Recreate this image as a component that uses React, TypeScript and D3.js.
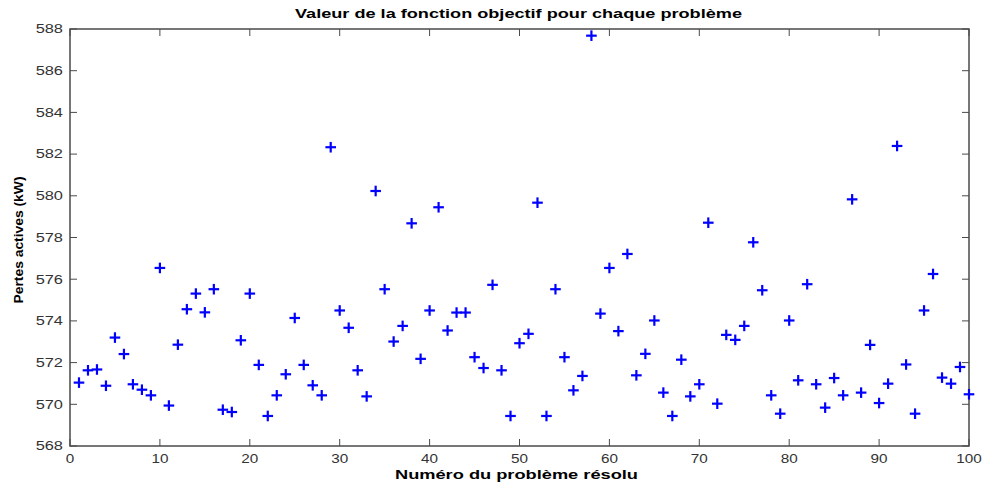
import React from "react";
import * as d3 from "d3";

const problems: number[] = d3.range(1, 101);
const losses: number[] = [
  571.04, 571.63, 571.67, 570.89, 573.2, 572.41, 570.96, 570.7, 570.43, 576.54,
  569.94, 572.86, 574.56, 575.31, 574.41, 575.52, 569.74, 569.63, 573.07, 575.31,
  571.89, 569.44, 570.43, 571.44, 574.14, 571.89, 570.91, 570.43, 582.33, 574.5,
  573.67, 571.63, 570.38, 580.23, 575.52, 573.01, 573.76, 578.68, 572.18, 574.5,
  579.45, 573.54, 574.4, 574.4, 572.26, 571.74, 575.73, 571.63, 569.44, 572.93,
  573.38, 579.67, 569.44, 575.52, 572.26, 570.67, 571.36, 587.68, 574.35, 576.54,
  573.51, 577.21, 571.39, 572.42, 574.02, 570.56, 569.44, 572.14, 570.38, 570.96,
  578.71, 570.03, 573.33, 573.09, 573.76, 577.77, 575.47, 570.43, 569.55, 574.02,
  571.15, 575.76, 570.96, 569.84, 571.26, 570.43, 579.83, 570.56, 572.85, 570.06,
  570.99, 582.39, 571.91, 569.55, 574.5, 576.25, 571.28, 570.99, 571.79, 570.48,
];
const xTicks: number[] = [0, 10, 20, 30, 40, 50, 60, 70, 80, 90, 100];
const yTicks: number[] = [568, 570, 572, 574, 576, 578, 580, 582, 584, 586, 588];
const title = "Valeur de la fonction objectif pour chaque problème";
const xLabel = "Numéro du problème résolu";
const yLabel = "Pertes actives (kW)";

export default function App() {
  const W = 985;
  const H = 483;
  const left = 70, right = 969, top = 29, bottom = 446;
  const x = d3.scaleLinear().domain([0, 100]).range([left, right]);
  const y = d3.scaleLinear().domain([568, 588]).range([bottom, top]);
  const tickLen = 7;
  const axisColor = "#4a4a4a";
  const font = "'Liberation Sans', Arial, sans-serif";
  const m = 5.3;

  return (
    <svg
      width={W}
      height={H}
      style={{ position: "absolute", left: 0, top: 0, background: "#fff" }}
      fontFamily={font}
    >
      <rect x={0} y={0} width={W} height={H} fill="#fff" />
      {xTicks.map((t) => (
        <g key={"xt" + t}>
          <line x1={x(t)} x2={x(t)} y1={bottom} y2={bottom - tickLen} stroke={axisColor} strokeWidth={1} />
          <line x1={x(t)} x2={x(t)} y1={top} y2={top + tickLen} stroke={axisColor} strokeWidth={1} />
          <text
            x={x(t)}
            y={463}
            textAnchor="middle"
            fontSize={12}
            fill="#333"
            textLength={String(t).length * 8.5}
            lengthAdjust="spacingAndGlyphs"
          >
            {t}
          </text>
        </g>
      ))}
      {yTicks.map((t) => (
        <g key={"yt" + t}>
          <line x1={left} x2={left + tickLen} y1={y(t)} y2={y(t)} stroke={axisColor} strokeWidth={1} />
          <line x1={right} x2={right - tickLen} y1={y(t)} y2={y(t)} stroke={axisColor} strokeWidth={1} />
          <text
            x={63}
            y={y(t) + 4.3}
            textAnchor="end"
            fontSize={12}
            fill="#333"
            textLength={String(t).length * 9.1}
            lengthAdjust="spacingAndGlyphs"
          >
            {t}
          </text>
        </g>
      ))}
      <rect
        x={left}
        y={top}
        width={right - left}
        height={bottom - top}
        fill="none"
        stroke={axisColor}
        strokeWidth={1.5}
      />
      {losses.map((v, i) => {
        const cx = x(problems[i]);
        const cy = y(v);
        return (
          <g key={"p" + i} stroke="#0000ff" strokeWidth={2.2}>
            <line x1={cx - m} x2={cx + m} y1={cy} y2={cy} />
            <line x1={cx} x2={cx} y1={cy - m} y2={cy + m} />
          </g>
        );
      })}
      <text
        x={518.5}
        y={18}
        textAnchor="middle"
        fontSize={12.5}
        fontWeight="bold"
        fill="#000"
        textLength={447}
        lengthAdjust="spacingAndGlyphs"
      >
        {title}
      </text>
      <text
        x={516.5}
        y={479}
        textAnchor="middle"
        fontSize={12.5}
        fontWeight="bold"
        fill="#000"
        textLength={243}
        lengthAdjust="spacingAndGlyphs"
      >
        {xLabel}
      </text>
      <text
        transform={`translate(23, 240) rotate(-90)`}
        textAnchor="middle"
        fontSize={13}
        fontWeight="bold"
        fill="#000"
        textLength={127}
        lengthAdjust="spacingAndGlyphs"
      >
        {yLabel}
      </text>
    </svg>
  );
}
